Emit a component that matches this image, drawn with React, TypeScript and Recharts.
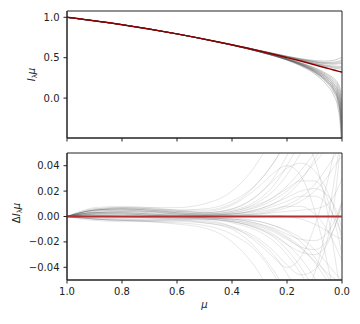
import { LineChart, Line, XAxis, YAxis, ReferenceArea } from "recharts";

// top panel: intensity profile, model (red) + posterior draws (grey)
const topMu = [1.0, 0.8, 0.6, 0.45, 0.35, 0.3, 0.25, 0.2, 0.15, 0.1, 0.06, 0.03, 0.015, 0.005, 0];
const topModel = [1.0, 0.909, 0.795, 0.695, 0.622, 0.583, 0.543, 0.501, 0.458, 0.413, 0.375, 0.348, 0.334, 0.325, 0.32];
const topSamples = [
  [1.0, 0.909, 0.795, 0.694, 0.62, 0.579, 0.537, 0.49, 0.438, 0.376, 0.31, 0.243, 0.184, 0.085, -0.08],
  [1.0, 0.909, 0.794, 0.694, 0.619, 0.578, 0.535, 0.488, 0.434, 0.368, 0.297, 0.222, 0.154, 0.037, -0.16],
  [1.0, 0.909, 0.794, 0.694, 0.619, 0.577, 0.534, 0.486, 0.43, 0.361, 0.284, 0.201, 0.124, -0.011, -0.24],
  [1.0, 0.909, 0.794, 0.693, 0.618, 0.577, 0.533, 0.483, 0.426, 0.353, 0.271, 0.18, 0.094, -0.059, -0.32],
  [1.0, 0.909, 0.794, 0.693, 0.618, 0.576, 0.532, 0.482, 0.424, 0.349, 0.265, 0.168, 0.079, -0.085, -0.36],
  [1.0, 0.909, 0.794, 0.693, 0.617, 0.575, 0.531, 0.48, 0.42, 0.342, 0.251, 0.148, 0.049, -0.131, -0.44],
  [1.0, 0.909, 0.794, 0.693, 0.617, 0.575, 0.53, 0.479, 0.418, 0.338, 0.245, 0.138, 0.034, -0.155, -0.48],
  [1.0, 0.909, 0.794, 0.693, 0.617, 0.574, 0.529, 0.477, 0.414, 0.331, 0.232, 0.117, 0.004, -0.203, -0.56],
  [1.0, 0.909, 0.794, 0.693, 0.616, 0.574, 0.528, 0.476, 0.412, 0.327, 0.225, 0.108, -0.011, -0.225, -0.6],
  [1.0, 0.909, 0.794, 0.693, 0.616, 0.573, 0.527, 0.475, 0.41, 0.323, 0.219, 0.096, -0.026, -0.251, -0.64],
  [1.0, 0.909, 0.794, 0.692, 0.616, 0.573, 0.526, 0.472, 0.406, 0.316, 0.206, 0.075, -0.056, -0.3, -0.72],
  [1.0, 0.909, 0.794, 0.692, 0.615, 0.571, 0.524, 0.468, 0.398, 0.301, 0.18, 0.033, -0.116, -0.395, -0.88],
  [1.0, 0.909, 0.795, 0.695, 0.623, 0.585, 0.545, 0.505, 0.464, 0.424, 0.392, 0.372, 0.364, 0.36, 0.356],
  [1.0, 0.909, 0.795, 0.695, 0.623, 0.585, 0.547, 0.506, 0.467, 0.429, 0.4, 0.384, 0.379, 0.377, 0.374],
  [1.0, 0.909, 0.795, 0.696, 0.624, 0.586, 0.548, 0.508, 0.47, 0.434, 0.408, 0.396, 0.394, 0.394, 0.392],
  [1.0, 0.909, 0.795, 0.696, 0.625, 0.588, 0.55, 0.512, 0.476, 0.445, 0.425, 0.42, 0.424, 0.429, 0.428],
  [1.0, 0.909, 0.795, 0.696, 0.625, 0.588, 0.551, 0.514, 0.479, 0.45, 0.433, 0.432, 0.439, 0.446, 0.446],
  [1.0, 0.909, 0.795, 0.696, 0.626, 0.589, 0.553, 0.515, 0.482, 0.455, 0.441, 0.444, 0.454, 0.463, 0.464],
  [1.0, 0.909, 0.795, 0.697, 0.627, 0.591, 0.555, 0.519, 0.488, 0.466, 0.458, 0.468, 0.484, 0.498, 0.5],
];

// bottom panel: residuals against the model
const bottomMu = [1.0, 0.95, 0.9, 0.8, 0.7, 0.6, 0.5, 0.4, 0.3, 0.25, 0.2, 0.15, 0.1, 0.05, 0.02, 0];
const bottomModel = [0, 0, 0, 0, 0, 0, 0, 0, 0, 0, 0, 0, 0, 0, 0, 0];
const bottomSamples = [
  [0, 0.003, 0.005, 0.006, 0.005, 0.003, 0.002, 0.004, 0.012, 0.02, 0.033, 0.05, 0.07, 0.09, 0.1, 0.11],
  [0, 0.002, 0.004, 0.005, 0.004, 0.002, 0.001, 0.002, 0.006, 0.01, 0.017, 0.028, 0.045, 0.065, 0.08, 0.09],
  [0, 0.003, 0.006, 0.007, 0.006, 0.004, 0.003, 0.006, 0.018, 0.03, 0.048, 0.07, 0.09, 0.1, 0.1, 0.1],
  [0, 0.002, 0.003, 0.004, 0.003, 0.002, 0.001, 0.001, 0.003, 0.005, 0.009, 0.015, 0.025, 0.04, 0.05, 0.056],
  [0, 0.001, 0.002, 0.002, 0.001, 0, 0, 0.001, 0.002, 0.004, 0.007, 0.012, 0.02, 0.032, 0.042, 0.048],
  [0, 0.003, 0.005, 0.006, 0.005, 0.003, 0.002, 0.004, 0.01, 0.015, 0.022, 0.028, 0.028, 0.012, -0.01, -0.03],
  [0, 0.003, 0.005, 0.006, 0.005, 0.004, 0.004, 0.009, 0.024, 0.034, 0.04, 0.032, 0.005, -0.04, -0.07, -0.09],
  [0, 0.004, 0.006, 0.007, 0.006, 0.005, 0.005, 0.01, 0.028, 0.042, 0.058, 0.062, 0.045, 0, -0.04, -0.07],
  [0, 0.002, 0.003, 0.004, 0.003, 0.002, 0.001, 0.002, 0.006, 0.01, 0.015, 0.02, 0.022, 0.016, 0.004, -0.01],
  [0, 0.004, 0.007, 0.008, 0.007, 0.005, 0.003, 0.005, 0.014, 0.024, 0.04, 0.06, 0.08, 0.095, 0.1, 0.1],
  [0, 0.002, 0.003, 0.003, 0.002, 0.001, 0.001, 0.003, 0.009, 0.015, 0.024, 0.036, 0.05, 0.062, 0.068, 0.07],
  [0, 0.003, 0.005, 0.006, 0.005, 0.004, 0.003, 0.006, 0.018, 0.028, 0.038, 0.042, 0.036, 0.018, 0.0, -0.02],
  [0, 0.003, 0.005, 0.006, 0.006, 0.005, 0.006, 0.012, 0.028, 0.042, 0.06, 0.08, 0.1, 0.11, 0.115, 0.12],
  [0, 0.003, 0.005, 0.007, 0.007, 0.007, 0.01, 0.02, 0.045, 0.065, 0.09, 0.11, 0.12, 0.12, 0.12, 0.12],
  [0, 0.002, 0.003, 0.003, 0.002, 0.001, 0.001, 0.001, 0.002, 0.003, 0.004, 0.005, 0.006, 0.01, 0.02, 0.03],
  [0, 0.002, 0.004, 0.005, 0.004, 0.003, 0.002, 0.003, 0.008, 0.013, 0.02, 0.03, 0.042, 0.055, 0.062, 0.066],
  [0, 0.002, 0.003, 0.004, 0.004, 0.003, 0.002, 0.002, 0.004, 0.006, 0.008, 0.008, 0.002, -0.012, -0.025, -0.035],
  [0, 0.003, 0.005, 0.005, 0.004, 0.002, 0.001, 0.002, 0.005, 0.008, 0.012, 0.016, 0.016, 0.008, -0.004, -0.014],
  [0, 0.001, 0.002, 0.003, 0.002, 0.001, 0, 0, 0.001, 0.001, 0, -0.002, -0.006, -0.012, -0.016, -0.018],
  [0, -0.001, -0.002, -0.002, -0.002, -0.002, -0.002, -0.005, -0.012, -0.019, -0.03, -0.045, -0.065, -0.09, -0.11, -0.12],
  [0, 0.001, 0.001, 0, -0.001, -0.001, -0.002, -0.004, -0.009, -0.014, -0.022, -0.033, -0.048, -0.065, -0.075, -0.08],
  [0, -0.002, -0.003, -0.004, -0.004, -0.004, -0.005, -0.009, -0.02, -0.03, -0.045, -0.065, -0.09, -0.11, -0.12, -0.12],
  [0, 0, 0, -0.001, -0.001, -0.001, -0.001, -0.002, -0.004, -0.007, -0.011, -0.017, -0.026, -0.038, -0.046, -0.05],
  [0, 0.001, 0.002, 0.002, 0.001, 0, -0.001, -0.002, -0.006, -0.01, -0.016, -0.024, -0.036, -0.052, -0.062, -0.068],
  [0, -0.001, -0.002, -0.003, -0.003, -0.002, -0.002, -0.004, -0.01, -0.016, -0.026, -0.04, -0.058, -0.08, -0.095, -0.1],
  [0, 0.002, 0.003, 0.003, 0.002, 0.001, 0, -0.001, -0.004, -0.007, -0.012, -0.02, -0.032, -0.048, -0.058, -0.064],
  [0, -0.001, -0.002, -0.003, -0.004, -0.005, -0.007, -0.014, -0.03, -0.045, -0.065, -0.085, -0.1, -0.11, -0.115, -0.12],
  [0, -0.001, -0.002, -0.003, -0.004, -0.006, -0.009, -0.02, -0.045, -0.065, -0.09, -0.11, -0.12, -0.12, -0.12, -0.12],
  [0, -0.001, -0.001, -0.001, -0.001, -0.001, -0.001, -0.003, -0.007, -0.011, -0.017, -0.025, -0.035, -0.045, -0.05, -0.052],
  [0, 0.001, 0.001, 0.001, 0, -0.001, -0.002, -0.004, -0.01, -0.015, -0.022, -0.028, -0.03, -0.02, -0.004, 0.012],
  [0, 0.001, 0.001, 0, -0.001, -0.002, -0.003, -0.008, -0.022, -0.032, -0.04, -0.032, -0.008, 0.03, 0.06, 0.08],
  [0, -0.001, -0.002, -0.003, -0.003, -0.003, -0.004, -0.008, -0.018, -0.027, -0.038, -0.046, -0.042, -0.015, 0.025, 0.07],
  [0, 0.001, 0.002, 0.002, 0.001, 0, -0.001, -0.002, -0.006, -0.009, -0.014, -0.018, -0.019, -0.012, 0.0, 0.012],
  [0, 0, -0.001, -0.002, -0.003, -0.003, -0.005, -0.01, -0.028, -0.042, -0.058, -0.062, -0.045, 0, 0.04, 0.07],
  [0, 0.001, 0.002, 0.002, 0.001, 0, -0.001, -0.003, -0.008, -0.012, -0.018, -0.024, -0.026, -0.018, -0.004, 0.01],
];

const xTicks = [1.0, 0.8, 0.6, 0.4, 0.2, 0.0];
const topYTicks = [0.0, 0.5, 1.0];
const bottomYTicks = [-0.04, -0.02, 0, 0.02, 0.04];
const topYDomain = [-0.494, 1.078];
const bottomYDomain = [-0.05, 0.05];

const FONT = "DejaVu Sans, sans-serif";
const INK = "#222";

function buildRows(mu: number[], model: number[], samples: number[][]) {
  return mu.map((m, i) => {
    const row: Record<string, number> = { mu: m, model: model[i] };
    samples.forEach((s, j) => { row[`s${j}`] = s[i]; });
    return row;
  });
}

const topRows = buildRows(topMu, topModel, topSamples);
const bottomRows = buildRows(bottomMu, bottomModel, bottomSamples);

const fmt = (d: number) => (v: number) => v.toFixed(d).replace("-", "\u2212");

function YLabel({ px, py, delta }: { px: number; py: number; delta?: boolean }) {
  return (
    <g transform={`translate(${px} ${py}) rotate(-90)`}>
      <text x={0} y={0} textAnchor="middle" fontSize={10} fill={INK} fontFamily={FONT}>
        {delta ? "Δ" : ""}
        <tspan fontStyle="italic">I</tspan>
        <tspan fontSize={7} dy={2}>λ</tspan>
        <tspan dy={-2} fontStyle="italic">μ</tspan>
      </text>
    </g>
  );
}

const tickStyle = { fill: INK, fontSize: 10, fontFamily: FONT };

export default function App() {
  return (
    <div style={{ position: "absolute", left: 0, top: 0, width: 360, height: 324, background: "#fff" }}>
      <div style={{ position: "absolute", left: 0, top: 0 }}>
        <LineChart width={360} height={150} data={topRows} margin={{ top: 11, right: 18, bottom: 0, left: 0 }}>
          <XAxis dataKey="mu" type="number" domain={[0, 1]} reversed ticks={xTicks}
            tickFormatter={() => ""} tickSize={3.5} height={12} stroke={INK} />
          <YAxis type="number" domain={topYDomain} allowDataOverflow ticks={topYTicks}
            tickFormatter={fmt(1)} tickSize={3.5} tickMargin={4} width={67} stroke={INK} tick={tickStyle} />
          {topSamples.map((_, j) => (
            <Line key={j} dataKey={`s${j}`} type="monotone" stroke="#555" strokeOpacity={0.3}
              strokeWidth={1} dot={false} isAnimationActive={false} />
          ))}
          <Line dataKey="model" type="monotone" stroke="#8b0000" strokeWidth={1.5} dot={false} isAnimationActive={false} />
          <ReferenceArea x1={0} x2={1} y1={topYDomain[0]} y2={topYDomain[1]} fill="none"
            stroke={INK} strokeWidth={1} ifOverflow="visible" />
        </LineChart>
      </div>
      <div style={{ position: "absolute", left: 0, top: 145 }}>
        <LineChart width={360} height={179} data={bottomRows} margin={{ top: 8, right: 18, bottom: 14, left: 0 }}>
          <XAxis dataKey="mu" type="number" domain={[0, 1]} reversed ticks={xTicks}
            tickFormatter={fmt(1)} tickSize={3.5} tickMargin={4} height={30} stroke={INK} tick={tickStyle} />
          <YAxis type="number" domain={bottomYDomain} allowDataOverflow ticks={bottomYTicks}
            tickFormatter={fmt(2)} tickSize={3.5} tickMargin={4} width={67} stroke={INK} tick={tickStyle} />
          {bottomSamples.map((_, j) => (
            <Line key={j} dataKey={`s${j}`} type="monotone" stroke="#555" strokeOpacity={0.14}
              strokeWidth={1} dot={false} isAnimationActive={false} />
          ))}
          <Line dataKey="model" type="monotone" stroke="#b03030" strokeWidth={2} dot={false} isAnimationActive={false} />
          <ReferenceArea x1={0} x2={1} y1={bottomYDomain[0]} y2={bottomYDomain[1]} fill="none"
            stroke={INK} strokeWidth={1} ifOverflow="visible" />
        </LineChart>
      </div>
      <svg width={360} height={324} style={{ position: "absolute", left: 0, top: 0, pointerEvents: "none" }}>
        <YLabel px={35} py={74.5} />
        <YLabel px={19.5} py={213} delta />
        <text x={204.5} y={307.5} textAnchor="middle" fontSize={10} fontStyle="italic" fill={INK} fontFamily={FONT}>μ</text>
      </svg>
    </div>
  );
}
